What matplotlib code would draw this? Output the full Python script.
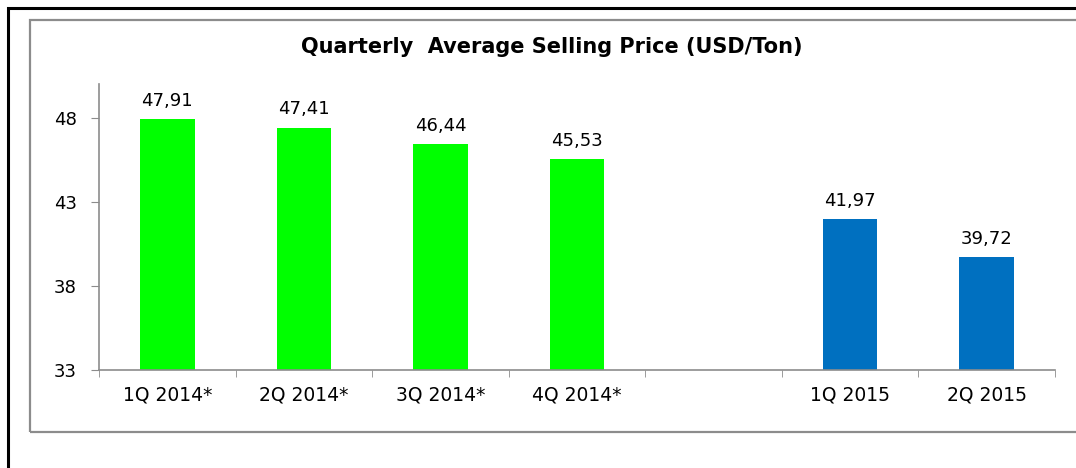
import matplotlib.pyplot as plt
from matplotlib.patches import Rectangle
import numpy as np

# chart data
quarters = ['1Q 2014*', '2Q 2014*', '3Q 2014*', '4Q 2014*', '', '1Q 2015', '2Q 2015']
prices = [47.91, 47.41, 46.44, 45.53, None, 41.97, 39.72]
labels = ['47,91', '47,41', '46,44', '45,53', '', '41,97', '39,72']
bar_colors = ['#00FF00', '#00FF00', '#00FF00', '#00FF00', 'none', '#0070C0', '#0070C0']
yticks = [33, 38, 43, 48]

plt.rcParams['font.family'] = ['DejaVu Sans']

fig = plt.figure(figsize=(10.76, 4.68), dpi=100)

# outer black frame and grey chart-area frame
fig.patches.append(Rectangle((8 / 1076, -0.1), 1.2, 1 - 8 / 468 + 0.1, transform=fig.transFigure,
                             fill=False, edgecolor='black', linewidth=2.2, zorder=0))
fig.patches.append(Rectangle((30 / 1076, 1 - 432 / 468), 1.2, (432 - 20) / 468, transform=fig.transFigure,
                             fill=False, edgecolor='#8c8c8c', linewidth=1.6, zorder=0))

ax = fig.add_axes([99 / 1076, 1 - 370 / 468, (1055 - 99) / 1076, (370 - 84) / 468])

x = np.arange(len(quarters))
for i in range(len(quarters)):
    if prices[i] is None:
        continue
    ax.bar(x[i], prices[i] - 33, bottom=33, width=0.4, color=bar_colors[i])
    ax.text(x[i], prices[i] + 0.55, labels[i], ha='center', va='bottom', fontsize=13, color='black')

ax.set_xlim(-0.5, len(quarters) - 0.5)
ax.set_ylim(33, 50)
ax.set_yticks(yticks)
ax.set_yticklabels([str(t) for t in yticks], fontsize=13)
ax.set_xticks(x)
ax.set_xticklabels(quarters, fontsize=13.5)
ax.set_xticks(np.arange(len(quarters) + 1) - 0.5, minor=True)
ax.tick_params(axis='x', which='major', length=0, pad=11)
ax.tick_params(axis='x', which='minor', length=5, color='#8c8c8c', direction='out')
ax.tick_params(axis='y', length=6, color='#8c8c8c', pad=10)

for s in ['top', 'right']:
    ax.spines[s].set_visible(False)
for s in ['left', 'bottom']:
    ax.spines[s].set_color('#8c8c8c')
    ax.spines[s].set_linewidth(1.2)

fig.text(552 / 1076, 1 - 47 / 468, 'Quarterly  Average Selling Price (USD/Ton)', ha='center', va='center',
         fontsize=15, fontweight='bold')

fig.savefig('out.png', dpi=100)
